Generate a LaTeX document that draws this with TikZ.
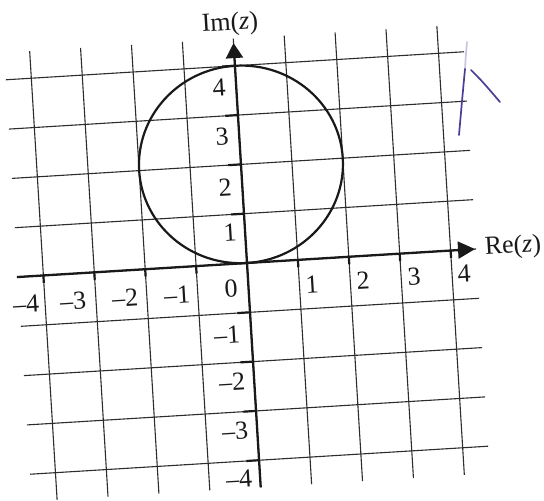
\documentclass[tikz,border=0pt]{standalone}
\usepackage{fontspec}
\setmainfont{Liberation Serif}
\usetikzlibrary{arrows.meta}
\definecolor{gridc}{RGB}{45,45,45}
\definecolor{ink}{RGB}{25,25,25}
\definecolor{pen}{RGB}{72,62,150}
\begin{document}
\begin{tikzpicture}[x=1pt,y=1pt,
  gridline/.style={draw=gridc, line width=1.1pt},
  axisline/.style={draw=ink, line width=2.3pt},
  tickmark/.style={draw=ink, line width=2.2pt},
  circline/.style={draw=ink, line width=2.2pt},
  lab/.style={inner sep=0pt, font=\fontsize{26}{30}\selectfont, text=ink, rotate=3.5},
  penline/.style={draw=pen, line width=1.7pt, line cap=round}]
\useasboundingbox (0,0) rectangle (544,501);
\fill[white] (0,0) rectangle (544,501);
\begin{scope}[shift={(247pt,238pt)}, rotate=3.5, x=51pt, y=49.4pt]
  \foreach \k in {-4,...,4} {
    \draw[gridline] (\k,-4.55) -- (\k,4.55);
    \draw[gridline] (-4.5,\k) -- (4.5,\k);
  }
  \draw[circline] (0,2) ellipse [x radius=2, y radius=2];
  \coordinate (xs) at (-4.52,0);
  \coordinate (xe) at (4.48,0);
  \coordinate (ys) at (0,-4.55);
  \coordinate (ye) at (0,4.46);
  \draw[axisline, -{Triangle[length=17pt,width=17pt]}] (xs) -- (xe);
  \draw[axisline, -{Triangle[length=15pt,width=17pt]}] (ys) -- (ye);
  \foreach \k in {-4,-3,-2,-1,1,2,3,4} {
    \draw[tickmark] (\k,0) -- (\k,-0.15);
    \draw[tickmark] (0,\k) -- (-0.25,\k);
  }
\end{scope}
% axis names
\node[lab] (im) at (230,477) {Im(\textit{z})};
\node[lab] (re) at (513,254) {Re(\textit{z})};
% y labels
\node[lab] (y4) at (219,413) {4};
\node[lab] (y3) at (222,364) {3};
\node[lab] (y2) at (225,313) {2};
\node[lab] (y1) at (230,268) {1};
\node[lab] (o) at (231,212) {0};
\node[lab] (ym1) at (227,166) {–1};
\node[lab] (ym2) at (232,119) {–2};
\node[lab] (ym3) at (235,70) {–3};
\node[lab] (ym4) at (239,22) {–4};
% x labels
\node[lab] (xm4) at (26,197) {–4};
\node[lab] (xm3) at (73,200) {–3};
\node[lab] (xm2) at (125,203) {–2};
\node[lab] (xm1) at (177,206) {–1};
\node[lab] (x1) at (312,216) {1};
\node[lab] (x2) at (363,220) {2};
\node[lab] (x3) at (414,224) {3};
\node[lab] (x4) at (464,227) {4};
% handwritten mark
\draw[penline, draw opacity=0.3] (467,459) .. controls (466,448) .. (465,432);
\draw[penline] (465,432) .. controls (462,400) .. (459,366);
\draw[penline] (471,431) .. controls (482,420) .. (500,399);
\end{tikzpicture}
\end{document}
